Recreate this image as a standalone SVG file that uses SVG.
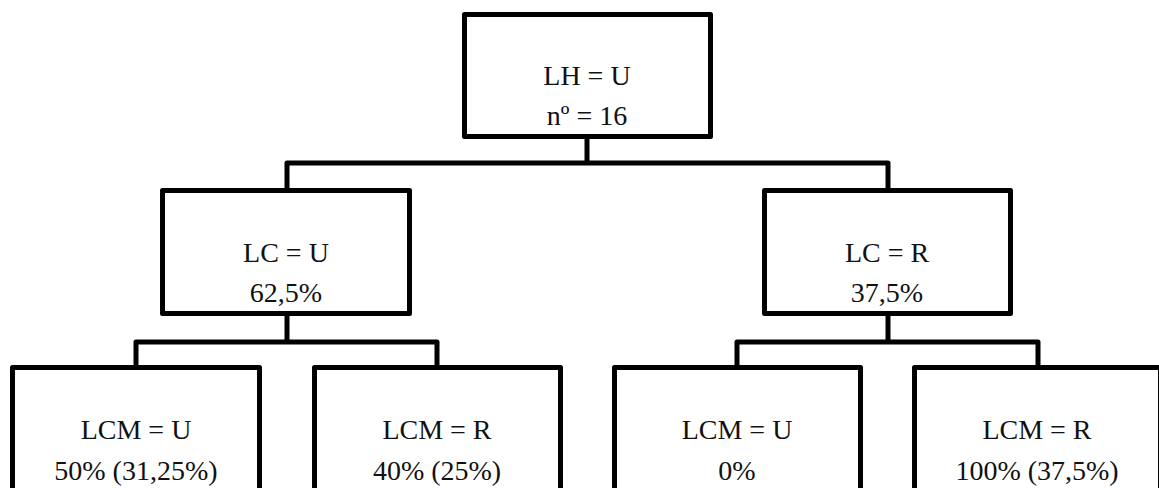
<svg xmlns="http://www.w3.org/2000/svg" width="1159" height="488" viewBox="0 0 1159 488">
<rect width="1159" height="488" fill="#fff"/>
<g id="connectors" fill="none" stroke="#000" stroke-width="5" stroke-linejoin="round">
<path d="M587,139 V163 M287,188 V163 H888 V188"/>
<path d="M287,316 V342 M136,365 V342 H437 V365"/>
<path d="M888,316 V342 M737,365 V342 H1038 V365"/>
</g>
<g id="root">
<rect x="464.5" y="14.5" width="246" height="122" fill="#fff" stroke="#000" stroke-width="5" stroke-linejoin="round"/>
<text x="543.3" y="85" font-size="28" fill="#111" font-family="'Liberation Serif', serif">LH = U</text>
<text x="546.8" y="125" font-size="28" fill="#111" font-family="'Liberation Serif', serif">nº = 16</text>
</g>
<g id="lc-u">
<rect x="162.5" y="190.5" width="247" height="123" fill="#fff" stroke="#000" stroke-width="5" stroke-linejoin="round"/>
<text x="243.1" y="262" font-size="28" fill="#111" font-family="'Liberation Serif', serif">LC = U</text>
<text x="249.8" y="302" font-size="28" fill="#111" font-family="'Liberation Serif', serif">62,5%</text>
</g>
<g id="lc-r">
<rect x="764.5" y="190.5" width="246" height="123" fill="#fff" stroke="#000" stroke-width="5" stroke-linejoin="round"/>
<text x="844.9" y="262" font-size="28" fill="#111" font-family="'Liberation Serif', serif">LC = R</text>
<text x="850.8" y="302" font-size="28" fill="#111" font-family="'Liberation Serif', serif">37,5%</text>
</g>
<g id="lcm-u-1">
<rect x="12.5" y="367.5" width="247" height="123" fill="#fff" stroke="#000" stroke-width="5" stroke-linejoin="round"/>
<text x="80.7" y="439" font-size="28" fill="#111" font-family="'Liberation Serif', serif">LCM = U</text>
<text x="54.3" y="480" font-size="28" fill="#111" font-family="'Liberation Serif', serif">50% (31,25%)</text>
</g>
<g id="lcm-r-1">
<rect x="314.5" y="367.5" width="246" height="123" fill="#fff" stroke="#000" stroke-width="5" stroke-linejoin="round"/>
<text x="382.4" y="439" font-size="28" fill="#111" font-family="'Liberation Serif', serif">LCM = R</text>
<text x="372.9" y="480" font-size="28" fill="#111" font-family="'Liberation Serif', serif">40% (25%)</text>
</g>
<g id="lcm-u-2">
<rect x="614.5" y="367.5" width="246" height="123" fill="#fff" stroke="#000" stroke-width="5" stroke-linejoin="round"/>
<text x="681.7" y="439" font-size="28" fill="#111" font-family="'Liberation Serif', serif">LCM = U</text>
<text x="718.3" y="480" font-size="28" fill="#111" font-family="'Liberation Serif', serif">0%</text>
</g>
<g id="lcm-r-2">
<rect x="914.5" y="367.5" width="246" height="123" fill="#fff" stroke="#000" stroke-width="5" stroke-linejoin="round"/>
<text x="982.4" y="439" font-size="28" fill="#111" font-family="'Liberation Serif', serif">LCM = R</text>
<text x="955.4" y="480" font-size="28" fill="#111" font-family="'Liberation Serif', serif">100% (37,5%)</text>
</g>
</svg>
